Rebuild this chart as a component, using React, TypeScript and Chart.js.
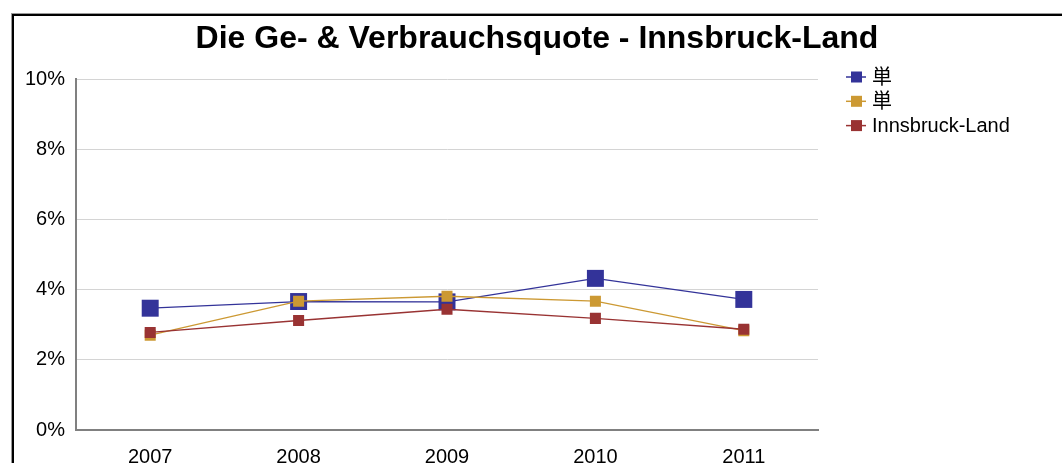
import React, { useEffect, useRef } from 'react';
import { Chart, registerables } from 'chart.js';

Chart.register(...registerables);

const titleText = 'Die Ge- & Verbrauchsquote - Innsbruck-Land';
const categories = ['2007', '2008', '2009', '2010', '2011'];
const seriesNames = ['単', '単', 'Innsbruck-Land'];
const blueValues = [3.47, 3.66, 3.65, 4.32, 3.72];
const goldValues = [2.7, 3.67, 3.81, 3.67, 2.83];
const redValues = [2.78, 3.12, 3.44, 3.18, 2.87];
const yMin = 0;
const yMax = 10;
const yStep = 2;

const FONT = "'Liberation Sans', Arial, 'Noto Sans CJK JP', sans-serif";
const colors = ['#333399', '#CC9933', '#993333'];

const framePlugin = {
  id: 'frame',
  beforeDraw(chart: any) {
    const ctx = chart.ctx;
    ctx.save();
    ctx.fillStyle = '#ffffff';
    ctx.fillRect(0, 0, chart.width, chart.height);
    ctx.fillStyle = '#9a9a9a';
    ctx.fillRect(11, 13, chart.width - 11, 1);
    ctx.fillRect(11, 13, 1, chart.height - 13);
    ctx.fillStyle = '#000000';
    ctx.fillRect(12, 14, chart.width - 12, 2);
    ctx.fillRect(12, 14, 2, chart.height - 14);
    ctx.restore();
  },
  afterDraw(chart: any) {
    const ctx = chart.ctx;
    const area = chart.chartArea;
    ctx.save();
    // title
    ctx.fillStyle = '#000000';
    ctx.font = `bold 32px ${FONT}`;
    ctx.textAlign = 'center';
    ctx.textBaseline = 'alphabetic';
    ctx.fillText(titleText, 537, 48);
    // legend
    ctx.font = `20px ${FONT}`;
    ctx.textAlign = 'left';
    ctx.textBaseline = 'middle';
    const lx = area.right + 28;
    seriesNames.forEach((name, i) => {
      const y = 77 + i * 24.3;
      ctx.strokeStyle = colors[i];
      ctx.lineWidth = 1.5;
      ctx.beginPath();
      ctx.moveTo(lx, y);
      ctx.lineTo(lx + 20, y);
      ctx.stroke();
      ctx.fillStyle = colors[i];
      ctx.fillRect(lx + 5, y - 5.5, 11, 11);
      ctx.fillStyle = '#000000';
      ctx.fillText(name, lx + 26, y + 1);
    });
    ctx.restore();
  },
};

export default function App() {
  const ref = useRef<HTMLCanvasElement>(null);
  useEffect(() => {
    if (!ref.current) return;
    const mk = (label: string, data: number[], color: string, r: number, order: number) => ({
      label,
      data,
      borderColor: color,
      backgroundColor: color,
      borderWidth: 1.3,
      pointStyle: 'rect',
      pointRadius: r,
      pointHoverRadius: r,
      pointBorderWidth: 0,
      pointBackgroundColor: color,
      tension: 0,
      order,
    });
    const chart = new Chart(ref.current, {
      type: 'line',
      data: {
        labels: categories,
        datasets: [
          mk(seriesNames[0], blueValues, colors[0], 12, 2),
          mk(seriesNames[1], goldValues, colors[1], 7.8, 1),
          mk(seriesNames[2], redValues, colors[2], 7.8, 0),
        ],
      },
      options: {
        responsive: false,
        animation: false,
        events: [],
        layout: { padding: { top: 79, left: 0, right: 244, bottom: 0 } },
        plugins: { legend: { display: false }, title: { display: false }, tooltip: { enabled: false } },
        scales: {
          x: {
            offset: true,
            grid: { display: false },
            border: { color: '#808080', width: 2 },
            ticks: { color: '#000000', font: { family: FONT, size: 20 }, padding: 7, maxRotation: 0 },
            afterFit: (s: any) => { s.height = 33; },
          },
          y: {
            min: yMin,
            max: yMax,
            grid: { color: '#d4d4d4', lineWidth: 1, drawTicks: false, tickLength: 0 },
            border: { color: '#808080', width: 2 },
            ticks: {
              stepSize: yStep,
              color: '#000000',
              font: { family: FONT, size: 20 },
              padding: 11,
              callback: (v: any) => `${v}%`,
            },
            afterFit: (s: any) => { s.width = 76; },
          },
        },
      },
      plugins: [framePlugin],
    } as any);
    return () => chart.destroy();
  }, []);
  return (
    <div style={{ position: 'absolute', left: 0, top: 0, width: 1062, height: 463 }}>
      <canvas ref={ref} width={1062} height={463} />
    </div>
  );
}
